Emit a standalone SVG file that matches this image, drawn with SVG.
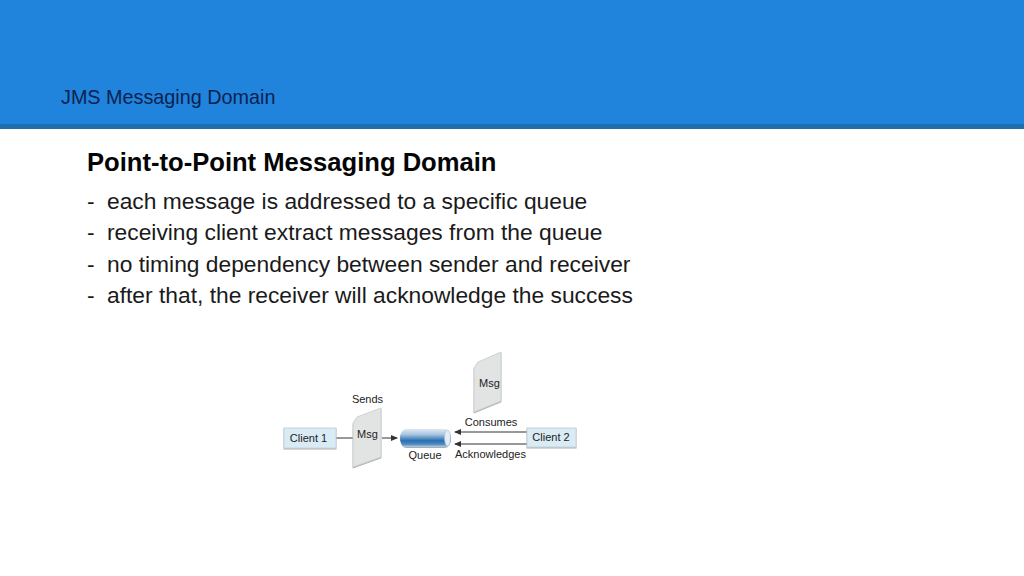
<svg xmlns="http://www.w3.org/2000/svg" width="1024" height="576" viewBox="0 0 1024 576">
<style>
text{font-family:"Liberation Sans",Arial,sans-serif}
.b{font-size:22.8px;fill:#1a1a1a}
.d{font-size:11px;fill:#222}
.c{fill:#d9ebf5;stroke:#c6d4dc;stroke-width:1}
.page{fill:#e2e4e4;stroke:#c8cbcb;stroke-width:.8}
.l{stroke:#333;stroke-width:1;fill:none}
</style>
<defs>
<linearGradient id="q" x1="0" y1="0" x2="0" y2="1">
<stop offset="0" stop-color="#dfe9f3"/><stop offset=".3" stop-color="#a9c6e0"/><stop offset=".65" stop-color="#2a6fb0"/><stop offset=".85" stop-color="#4c8cc4"/><stop offset="1" stop-color="#b9d0e4"/>
</linearGradient>
<marker id="a" markerWidth="7" markerHeight="6" refX="6" refY="3" orient="auto" markerUnits="userSpaceOnUse"><path d="M0 0L7 3L0 6Z" fill="#333"/></marker>
<filter id="s" x="-10%" y="-10%" width="120%" height="130%"><feDropShadow dx="0" dy="1" stdDeviation=".6" flood-color="#666" flood-opacity=".55"/></filter>
</defs>
<rect width="1024" height="576" fill="#fff"/>
<rect width="1024" height="124" fill="#2083dc"/>
<rect y="124" width="1024" height="5" fill="#1f6eaf"/>
<text x="61" y="104" font-size="19.8" fill="#0b2250">JMS Messaging Domain</text>
<text x="87" y="171" font-size="25.6" font-weight="700" fill="#050505">Point-to-Point Messaging Domain</text>
<text class="b" x="87" y="209">-</text><text class="b" x="107" y="209">each message is addressed to a specific queue</text>
<text class="b" x="87" y="240">-</text><text class="b" x="107" y="240">receiving client extract messages from the queue</text>
<text class="b" x="87" y="272">-</text><text class="b" x="107" y="272">no timing dependency between sender and receiver</text>
<text class="b" x="87" y="303">-</text><text class="b" x="107" y="303">after that, the receiver will acknowledge the success</text>
<g id="connectors">
<path class="l" d="M336 438H354"/>
<path class="l" d="M382 438H397" marker-end="url(#a)"/>
<path class="l" d="M527 432H455" marker-end="url(#a)"/>
<path class="l" d="M527 444H455" marker-end="url(#a)"/>
</g>
<g id="client1"><rect class="c" x="284" y="428" width="52" height="20" filter="url(#s)"/><text class="d" x="308.500" y="441.500" text-anchor="middle">Client 1</text></g>
<g id="msg1"><path class="page" d="M353 423L357 417L381 408V457L353 467Z" filter="url(#s)"/><text class="d" x="367.500" y="438" text-anchor="middle">Msg</text></g>
<g id="msg2"><path class="page" d="M474 368L478 362L501 352V401L474 412Z" filter="url(#s)"/><text class="d" x="489.500" y="387" text-anchor="middle">Msg</text></g>
<g id="queue"><rect x="400" y="429" width="51" height="18" rx="6" ry="9" fill="url(#q)" filter="url(#s)"/><ellipse cx="447.500" cy="438" rx="3" ry="8" fill="#e4edf5" stroke="#9fbdd6" stroke-width=".6"/><text class="d" x="425" y="458.500" text-anchor="middle">Queue</text></g>
<g id="client2"><rect class="c" x="527" y="428" width="49" height="19" filter="url(#s)"/><text class="d" x="551" y="441" text-anchor="middle">Client 2</text></g>
<text class="d" x="367.500" y="403" text-anchor="middle">Sends</text>
<text class="d" x="491" y="426" text-anchor="middle">Consumes</text>
<text class="d" x="490.500" y="458" text-anchor="middle">Acknowledges</text>
</svg>
